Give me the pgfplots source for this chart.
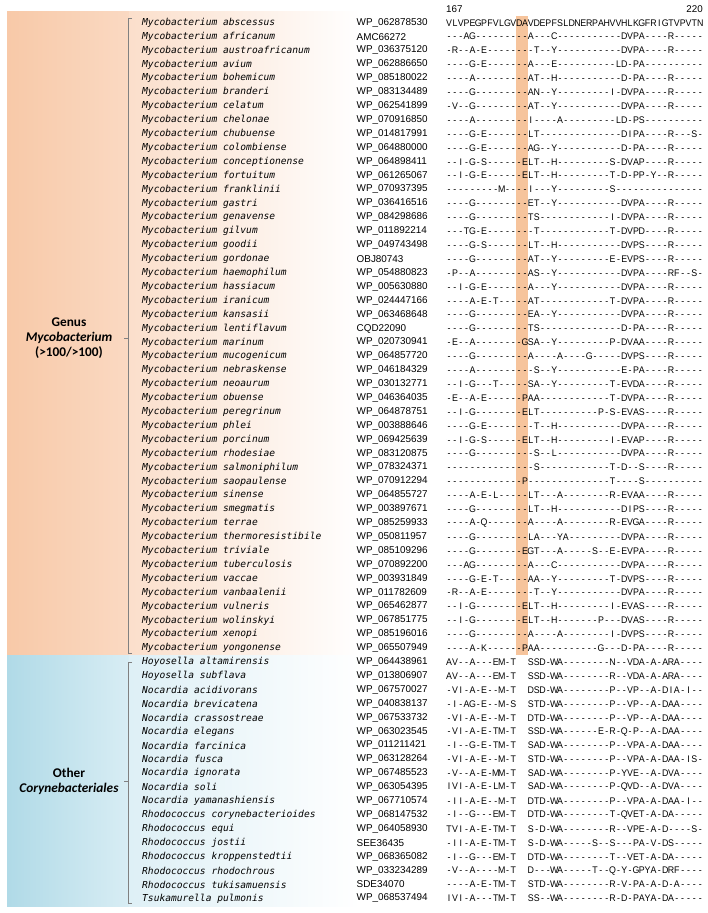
\documentclass[border=0pt]{standalone}
\usepackage{pgfplots}
\pgfplotsset{compat=1.18}
\usepackage{pgfplotstable}
\usepackage{fontspec}
\setmainfont{Liberation Sans}
\newfontfamily\namefont{DejaVu Sans Mono}
\newfontfamily\seqfont[FakeStretch=0.92]{Liberation Sans}
\newfontfamily\labfont{Carlito}
\definecolor{oc1}{RGB}{248,201,168}
\definecolor{oc2}{RGB}{250,217,194}
\definecolor{bc1}{RGB}{176,218,231}
\definecolor{bc2}{RGB}{216,237,244}
\definecolor{hl}{RGB}{246,196,156}
\definecolor{brk}{RGB}{128,128,128}
\def\seqcell#1{\hbox to 5.84pt{\hss#1\hss}}
\def\seqloop#1{\ifx#1\relax\else\ifx#1.\seqcell{}\else\seqcell{#1}\fi\expandafter\seqloop\fi}
\newcommand\seqtext{\edef\tmpseq{\pgfplotspointmeta}\expandafter\seqloop\tmpseq\relax}
\newcommand\acctext{\edef\tmpacc{\pgfplotspointmeta}\expandafter\detokenize\expandafter{\tmpacc}}

\pgfplotstableread[col sep=comma]{
idx,name,acc,seq
1,Mycobacterium abscessus,WP_062878530,VLVPEGPFVLGVDAVDEPFSLDNERPAHVVHLKGFRIGTVPVTN
2,Mycobacterium africanum,AMC66272,---AG---------A---C-----------DVPA----R-----
3,Mycobacterium austroafricanum,WP_036375120,-R--A-E--------T--Y-----------DVPA----R-----
4,Mycobacterium avium,WP_062886650,----G-E-------A---E----------LD-PA----------
5,Mycobacterium bohemicum,WP_085180022,----A---------AT--H-----------D-PA----R-----
6,Mycobacterium branderi,WP_083134489,----G---------AN--Y---------I-DVPA----R-----
7,Mycobacterium celatum,WP_062541899,-V--G---------AT--Y-----------DVPA----R-----
8,Mycobacterium chelonae,WP_070916850,----A---------I----A---------LD-PS----------
9,Mycobacterium chubuense,WP_014817991,----G-E-------LT--------------DIPA----R---S-
10,Mycobacterium colombiense,WP_064880000,----G-E-------AG--Y-----------D-PA----R-----
11,Mycobacterium conceptionense,WP_064898411,--I-G-S------ELT--H---------S-DVAP----R-----
12,Mycobacterium fortuitum,WP_061265067,--I-G-E------ELT--H---------T-D-PP-Y--R-----
13,Mycobacterium franklinii,WP_070937395,---------M----I---Y---------S---------------
14,Mycobacterium gastri,WP_036416516,----G---------ET--Y-----------DVPA----R-----
15,Mycobacterium genavense,WP_084298686,----G---------TS------------I-DVPA----R-----
16,Mycobacterium gilvum,WP_011892214,---TG-E--------T------------T-DVPD----R-----
17,Mycobacterium goodii,WP_049743498,----G-S-------LT--H-----------DVPS----R-----
18,Mycobacterium gordonae,OBJ80743,----G---------AT--Y---------E-EVPS----R-----
19,Mycobacterium haemophilum,WP_054880823,-P--A---------AS--Y-----------DVPA----RF--S-
20,Mycobacterium hassiacum,WP_005630880,--I-G-E-------A---Y-----------DVPA----R-----
21,Mycobacterium iranicum,WP_024447166,----A-E-T-----AT------------T-DVPA----R-----
22,Mycobacterium kansasii,WP_063468648,----G---------EA--Y-----------DVPA----R-----
23,Mycobacterium lentiflavum,CQD22090,----G---------TS--------------D-PA----R-----
24,Mycobacterium marinum,WP_020730941,-E--A--------GSA--Y---------P-DVAA----R-----
25,Mycobacterium mucogenicum,WP_064857720,----G---------A----A----G-----DVPS----R-----
26,Mycobacterium nebraskense,WP_046184329,----A----------S--Y-----------E-PA----R-----
27,Mycobacterium neoaurum,WP_030132771,--I-G---T-----SA--Y---------T-EVDA----R-----
28,Mycobacterium obuense,WP_046364035,-E--A-E------PAA------------T-DVPA----R-----
29,Mycobacterium peregrinum,WP_064878751,--I-G--------ELT----------P-S-EVAS----R-----
30,Mycobacterium phlei,WP_003888646,----G-E--------T--H-----------DVPA----R-----
31,Mycobacterium porcinum,WP_069425639,--I-G-S------ELT--H---------I-EVAP----R-----
32,Mycobacterium rhodesiae,WP_083120875,----G----------S--L-----------DVPA----R-----
33,Mycobacterium salmoniphilum,WP_078324371,---------------S------------T-D--S----R-----
34,Mycobacterium saopaulense,WP_070912294,-------------P--------------T----S----------
35,Mycobacterium sinense,WP_064855727,----A-E-L-----LT---A--------R-EVAA----R-----
36,Mycobacterium smegmatis,WP_003897671,----G---------LT--H-----------DIPS----R-----
37,Mycobacterium terrae,WP_085259933,----A-Q-------A----A--------R-EVGA----R-----
38,Mycobacterium thermoresistibile,WP_050811957,----G---------LA---YA---------DVPA----R-----
39,Mycobacterium triviale,WP_085109296,----G--------EGT---A-----S--E-EVPA----R-----
40,Mycobacterium tuberculosis,WP_070892200,---AG---------A---C-----------DVPA----R-----
41,Mycobacterium vaccae,WP_003931849,----G-E-T-----AA--Y---------T-DVPS----R-----
42,Mycobacterium vanbaalenii,WP_011782609,-R--A-E--------T--Y-----------DVPA----R-----
43,Mycobacterium vulneris,WP_065462877,--I-G--------ELT--H---------I-EVAS----R-----
44,Mycobacterium wolinskyi,WP_067851775,--I-G--------ELT--H-------P---DVAS----R-----
45,Mycobacterium xenopi,WP_085196016,----G---------A----A--------I-DVPS----R-----
46,Mycobacterium yongonense,WP_065507949,----A-K------PAA----------G---D-PA----R-----
47,Hoyosella altamirensis,WP_064438961,AV--A---EM-T..SSD-WA--------N--VDA-A-ARA----
48,Hoyosella subflava,WP_013806907,AV--A---EM-T..SSD-WA--------R--VDA-A-ARA----
49,Nocardia acidivorans,WP_067570027,-VI-A-E--M-T..DSD-WA--------P--VP--A-DIA-I--
50,Nocardia brevicatena,WP_040838137,-I-AG-E--M-S..STD-WA--------P--VP--A-DAA----
51,Nocardia crassostreae,WP_067533732,-VI-A-E--M-T..DTD-WA--------P--VP--A-DAA----
52,Nocardia elegans,WP_063023545,-VI-A-E-TM-T..SSD-WA------E-R-Q-P--A-DAA----
53,Nocardia farcinica,WP_011211421,-I--G-E-TM-T..SAD-WA--------P--VPA-A-DAA----
54,Nocardia fusca,WP_063128264,-VI-A-E--M-T..STD-WA--------P--VPA-A-DAA-IS-
55,Nocardia ignorata,WP_067485523,-V--A-E-MM-T..SAD-WA--------P-YVE--A-DVA----
56,Nocardia soli,WP_063054395,IVI-A-E-LM-T..SAD-WA--------P-QVD--A-DVA----
57,Nocardia yamanashiensis,WP_067710574,-II-A-E--M-T..DTD-WA--------P--VPA-A-DAA-I--
58,Rhodococcus corynebacterioides,WP_068147532,-I--G---EM-T..DTD-WA--------T-QVET-A-DA-----
59,Rhodococcus equi,WP_064058930,TVI-A-E-TM-T..S-D-WA--------R--VPE-A-D----S-
60,Rhodococcus jostii,SEE36435,-II-A-E-TM-T..S-D-WA-----S--S---PA-V-DS-----
61,Rhodococcus kroppenstedtii,WP_068365082,-I--G---EM-T..DTD-WA--------T--VET-A-DA-----
62,Rhodococcus rhodochrous,WP_033234289,-V--A----M-T..D---WA-----T--Q-Y-GPYA-DRF----
63,Rhodococcus tukisamuensis,SDE34070,----A-E-TM-T..STD-WA--------R-V-PA-A-D-A----
64,Tsukamurella pulmonis,WP_068537494,IVI-A---TM-T..SS--WA--------R-D-PAYA-DA-----
}\datatable

\begin{document}
\begin{tikzpicture}
\begin{axis}[
  scale only axis, width=708pt, height=913pt,
  xmin=0, xmax=708, ymin=0, ymax=913, y dir=reverse,
  hide axis, clip=false,
]
% frame corners (bounding box)
\addplot[draw=none, mark=none] coordinates {(0,0) (708,913)};
% group backgrounds
\addplot[draw=none, mark=none, left color=oc1, right color=oc2] coordinates {(7,11) (129,11) (129,655.2) (7,655.2)};
\addplot[draw=none, mark=none, left color=oc2!85!white, right color=white] coordinates {(129,11) (360,11) (360,655.2) (129,655.2)};
\addplot[draw=none, mark=none, left color=bc1, right color=bc2] coordinates {(7,655.2) (129,655.2) (129,906) (7,906)};
\addplot[draw=none, mark=none, left color=bc2!85!white, right color=white] coordinates {(129,655.2) (360,655.2) (360,906) (129,906)};
% highlighted column (positions 179-180)
\addplot[draw=none, mark=none, fill=hl] coordinates {(516.1,15.6) (527.8,15.6) (527.8,655) (516.1,655)};
% brackets
\addplot[brk, line width=0.6pt, mark=none] coordinates {(132,18) (128,18) (128,653) (132,653)};
\addplot[brk, line width=0.6pt, mark=none] coordinates {(128,338) (124,338)};
\addplot[brk, line width=0.6pt, mark=none] coordinates {(132,662) (128,662) (128,903) (132,903)};
\addplot[brk, line width=0.6pt, mark=none] coordinates {(128,781) (124,781)};
% species names
\addplot[only marks, mark=*, mark size=0pt, mark options={draw=none,fill=none},
  point meta=explicit symbolic,
  nodes near coords={\namefont\itshape\pgfplotspointmeta},
  nodes near coords align=horizontal,
  every node near coord/.append style={anchor=west, inner sep=0pt, font=\fontsize{9.6}{10}\selectfont}]
  table[x expr=142, y expr={22.7+(\thisrow{idx}-1)*13.9}, meta=name] {\datatable};
% accessions
\addplot[only marks, mark=*, mark size=0pt, mark options={draw=none,fill=none},
  point meta=explicit symbolic,
  nodes near coords={\acctext},
  nodes near coords align=horizontal,
  every node near coord/.append style={anchor=west, inner sep=0pt, font=\fontsize{9.9}{10}\selectfont}]
  table[x expr=356.5, y expr={22.7+(\thisrow{idx}-1)*13.9}, meta=acc] {\datatable};
% sequences
\addplot[only marks, mark=*, mark size=0pt, mark options={draw=none,fill=none},
  point meta=explicit symbolic,
  nodes near coords={\seqfont\seqtext},
  nodes near coords align=horizontal,
  every node near coord/.append style={anchor=west, inner sep=0pt, font=\fontsize{9.6}{10}\selectfont}]
  table[x expr=446, y expr={22.7+(\thisrow{idx}-1)*13.9}, meta=seq] {\datatable};
% position numbers
\node[anchor=west, inner sep=0pt, font=\fontsize{9.8}{10}\selectfont] at (axis cs:446,9) {167};
\node[anchor=east, inner sep=0pt, font=\fontsize{9.8}{10}\selectfont] at (axis cs:703,9) {220};
% group labels
\node[align=center, font=\labfont\bfseries\fontsize{13.3}{15}\selectfont] at (axis cs:69,338) {Genus\\\textit{Mycobacterium}\\(>100/>100)};
\node[align=center, font=\labfont\bfseries\fontsize{13.3}{15}\selectfont] at (axis cs:69,781) {Other\\\textit{Corynebacteriales}};
\end{axis}
\end{tikzpicture}
\end{document}
